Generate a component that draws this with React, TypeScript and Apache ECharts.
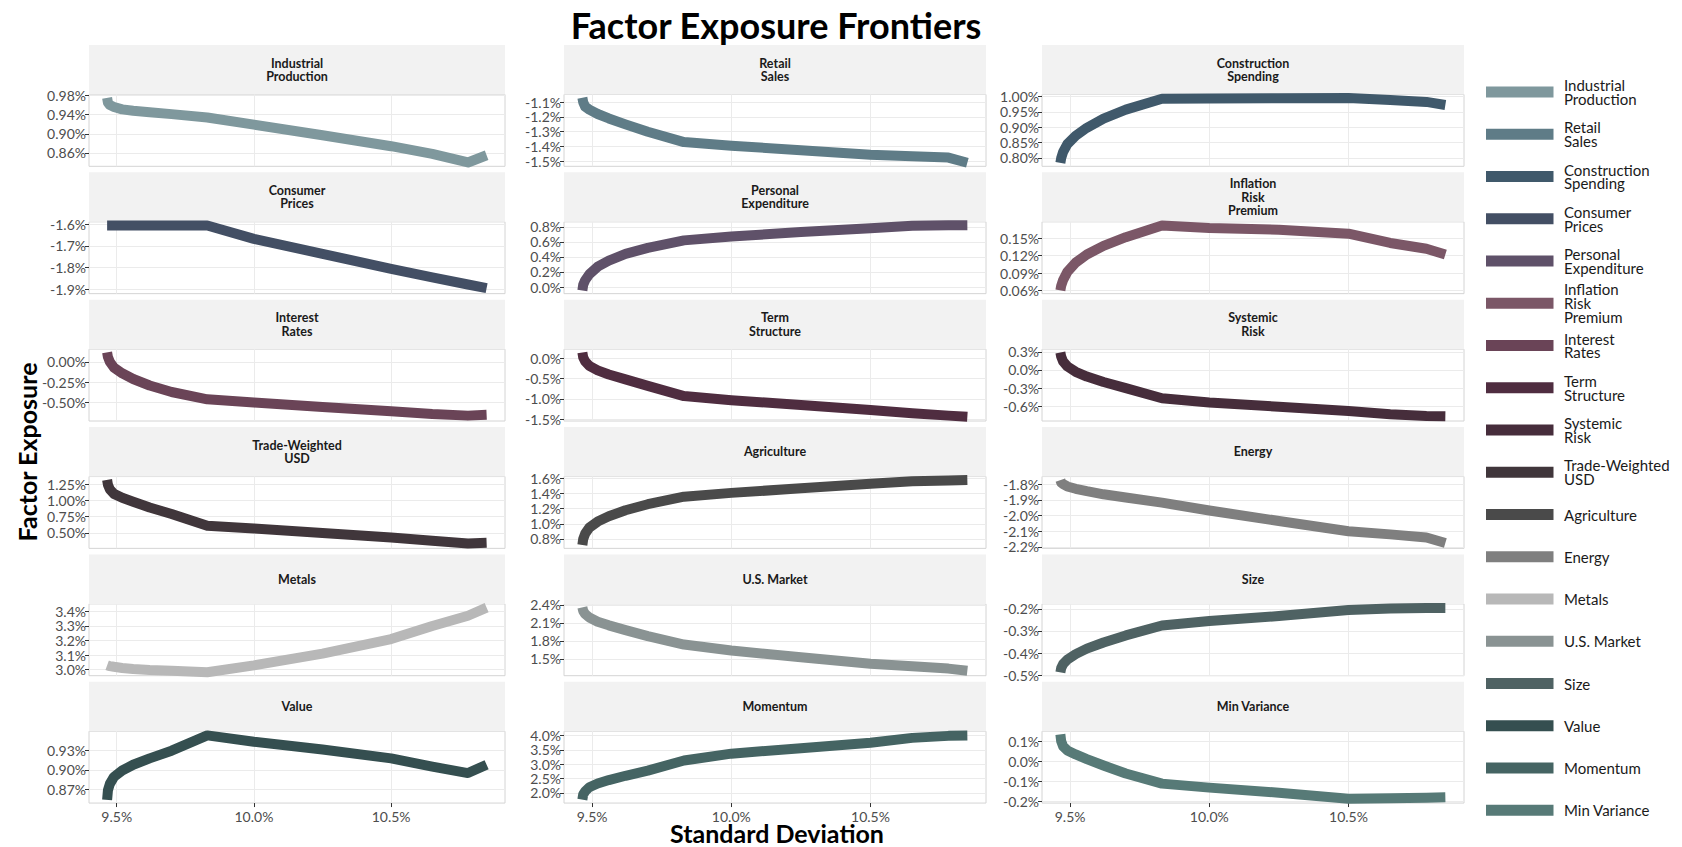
import React, { useEffect, useRef } from "react";
import * as echarts from "echarts";

// Standard deviation (x, in %)
const stdDev = [9.465, 9.468, 9.475, 9.49, 9.52, 9.56, 9.62, 9.7, 9.83, 10.0, 10.25, 10.5, 10.65, 10.78, 10.848];

// Factor exposures (in %), one per facet
const industrialProduction = [0.975, 0.965, 0.96, 0.956, 0.951, 0.948, 0.945, 0.941, 0.934, 0.919, 0.897, 0.874, 0.858, 0.84, 0.855];
const retailSales = [-1.07, -1.1, -1.13, -1.15, -1.18, -1.21, -1.25, -1.3, -1.37, -1.395, -1.425, -1.456, -1.466, -1.475, -1.51];
const constructionSpending = [0.784, 0.8, 0.82, 0.845, 0.872, 0.898, 0.928, 0.957, 0.992, 0.993, 0.994, 0.995, 0.988, 0.982, 0.972];
const consumerPrices = [-1.607, -1.607, -1.607, -1.607, -1.607, -1.607, -1.607, -1.607, -1.607, -1.668, -1.737, -1.806, -1.845, -1.878, -1.895];
const personalExpenditure = [-0.045, 0.03, 0.09, 0.17, 0.27, 0.35, 0.44, 0.52, 0.62, 0.67, 0.73, 0.78, 0.815, 0.82, 0.822];
const inflationRiskPremium = [0.06, 0.068, 0.078, 0.092, 0.108, 0.122, 0.137, 0.152, 0.172, 0.168, 0.165, 0.158, 0.142, 0.132, 0.122];
const interestRates = [0.116, 0.06, 0.0, -0.07, -0.14, -0.21, -0.29, -0.37, -0.46, -0.5, -0.555, -0.605, -0.64, -0.66, -0.65];
const termStructure = [0.14, 0.02, -0.08, -0.19, -0.3, -0.4, -0.52, -0.68, -0.93, -1.03, -1.15, -1.27, -1.35, -1.41, -1.44];
const systemicRisk = [0.29, 0.22, 0.14, 0.06, -0.03, -0.11, -0.2, -0.3, -0.47, -0.54, -0.61, -0.68, -0.735, -0.765, -0.77];
const tradeWeightedUSD = [1.316, 1.24, 1.17, 1.1, 1.04, 0.98, 0.89, 0.79, 0.61, 0.57, 0.5, 0.43, 0.38, 0.34, 0.35];
const agriculture = [0.72, 0.8, 0.87, 0.95, 1.03, 1.1, 1.18, 1.26, 1.36, 1.41, 1.47, 1.53, 1.565, 1.575, 1.58];
const energy = [-1.775, -1.79, -1.8, -1.815, -1.83, -1.845, -1.865, -1.885, -1.918, -1.968, -2.035, -2.1, -2.12, -2.14, -2.175];
const metals = [3.03, 3.028, 3.025, 3.02, 3.012, 3.005, 2.998, 2.993, 2.983, 3.03, 3.11, 3.21, 3.3, 3.37, 3.425];
const usMarket = [2.36, 2.3, 2.25, 2.19, 2.12, 2.06, 1.98, 1.88, 1.74, 1.64, 1.53, 1.42, 1.38, 1.34, 1.305];
const size = [-0.488, -0.468, -0.45, -0.43, -0.405, -0.38, -0.352, -0.32, -0.275, -0.255, -0.232, -0.205, -0.198, -0.196, -0.196];
const value = [0.853, 0.868, 0.878, 0.889, 0.899, 0.908, 0.918, 0.93, 0.954, 0.944, 0.932, 0.918, 0.905, 0.895, 0.908];
const momentum = [1.77, 1.95, 2.06, 2.2, 2.33, 2.45, 2.6, 2.78, 3.13, 3.37, 3.56, 3.75, 3.92, 3.99, 4.0];
const minVariance = [0.134, 0.1, 0.075, 0.055, 0.035, 0.012, -0.02, -0.06, -0.11, -0.13, -0.155, -0.185, -0.183, -0.18, -0.178];

const factorLabels = [
  "Industrial\nProduction", "Retail\nSales", "Construction\nSpending",
  "Consumer\nPrices", "Personal\nExpenditure", "Inflation\nRisk\nPremium",
  "Interest\nRates", "Term\nStructure", "Systemic\nRisk",
  "Trade-Weighted\nUSD", "Agriculture", "Energy",
  "Metals", "U.S. Market", "Size",
  "Value", "Momentum", "Min Variance",
];

const factorColors = [
  "#7f989d", "#5f7c87", "#40596b",
  "#434f64", "#5f5169", "#7b5767",
  "#6a4457", "#4f2d40", "#462d3b",
  "#40363b", "#4a4a4a", "#7f7f7f",
  "#b8b8b8", "#8a9393", "#4f6263",
  "#354f50", "#456463", "#577a77",
];

const seriesValues = [
  industrialProduction, retailSales, constructionSpending,
  consumerPrices, personalExpenditure, inflationRiskPremium,
  interestRates, termStructure, systemicRisk,
  tradeWeightedUSD, agriculture, energy,
  metals, usMarket, size,
  value, momentum, minVariance,
];

const yTicks = [
  [0.86, 0.9, 0.94, 0.98], [-1.5, -1.4, -1.3, -1.2, -1.1], [0.8, 0.85, 0.9, 0.95, 1.0],
  [-1.9, -1.8, -1.7, -1.6], [0, 0.2, 0.4, 0.6, 0.8], [0.06, 0.09, 0.12, 0.15],
  [-0.5, -0.25, 0], [-1.5, -1.0, -0.5, 0], [-0.6, -0.3, 0, 0.3],
  [0.5, 0.75, 1.0, 1.25], [0.8, 1.0, 1.2, 1.4, 1.6], [-2.2, -2.1, -2.0, -1.9, -1.8],
  [3.0, 3.1, 3.2, 3.3, 3.4], [1.5, 1.8, 2.1, 2.4], [-0.5, -0.4, -0.3, -0.2],
  [0.87, 0.9, 0.93], [2.0, 2.5, 3.0, 3.5, 4.0], [-0.2, -0.1, 0, 0.1],
];
const yDecimals = [2, 1, 2, 1, 1, 2, 2, 1, 1, 2, 1, 1, 1, 1, 1, 2, 1, 1];
const yMin = [0.832, -1.534, 0.773, -1.92, -0.088, 0.0543, -0.726, -1.542, -0.847, 0.264, 0.676, -2.209, 2.959, 1.222, -0.503, 0.848, 1.649, -0.2065];
const yMax = [0.982, -1.048, 1.006, -1.59, 0.866, 0.1785, 0.156, 0.221, 0.345, 1.366, 1.626, -1.752, 3.451, 2.417, -0.177, 0.9605, 4.151, 0.15];

const xTicks = [9.5, 10.0, 10.5];
const xMin = 9.399;
const xMax = 10.915;

const FONT = "Lato, 'Open Sans', 'DejaVu Sans', sans-serif";

export default function App() {
  const ref = useRef<HTMLDivElement>(null);
  useEffect(() => {
    if (!ref.current) return;
    const chart = echarts.init(ref.current, undefined, { renderer: "svg" });

    const colLeft = [89, 564, 1042];
    const colWidth = [416, 422, 422];
    const rowTop0 = 45;
    const rowStep = 127.35;
    const stripH = 49.5;
    const plotH = 71.8;
    const n = factorLabels.length;

    const grids: any[] = [];
    const xAxes: any[] = [];
    const yAxes: any[] = [];
    const series: any[] = [];
    const graphics: any[] = [];

    for (let i = 0; i < n; i++) {
      const r = Math.floor(i / 3);
      const c = i % 3;
      const stripTop = rowTop0 + r * rowStep;
      const bottomRow = r === 5;
      grids.push({
        left: colLeft[c],
        top: stripTop + stripH,
        width: colWidth[c],
        height: plotH,
        show: true,
        borderColor: "#d4d4d4",
        borderWidth: 1,
        backgroundColor: "#ffffff",
      });
      xAxes.push({
        type: "value",
        gridIndex: i,
        position: "bottom",
        min: xMin,
        max: xMax,
        axisLine: { show: false, onZero: false },
        axisTick: { show: bottomRow, length: 4, customValues: xTicks, lineStyle: { color: "#333333" } },
        axisLabel: {
          show: bottomRow,
          customValues: xTicks,
          formatter: (v: number) => v.toFixed(1) + "%",
          color: "#4d4d4d",
          fontSize: 14,
          lineHeight: 14,
          fontFamily: FONT,
          margin: 6,
        },
        splitLine: { show: true, lineStyle: { color: "#ebebeb", width: 1 } },
      });
      const dec = yDecimals[i];
      yAxes.push({
        type: "value",
        gridIndex: i,
        position: "left",
        min: yMin[i],
        max: yMax[i],
        axisLine: { show: false, onZero: false },
        axisTick: { show: true, length: 4, customValues: yTicks[i], lineStyle: { color: "#333333" } },
        axisLabel: {
          customValues: yTicks[i],
          formatter: (v: number) => v.toFixed(dec) + "%",
          color: "#4d4d4d",
          fontSize: 14,
          lineHeight: 14,
          fontFamily: FONT,
          margin: 3,
        },
        splitLine: { show: true, lineStyle: { color: "#ebebeb", width: 1 } },
      });
      series.push({
        type: "line",
        name: factorLabels[i],
        xAxisIndex: i,
        yAxisIndex: i,
        data: stdDev.map((x, j) => [x, seriesValues[i][j]]),
        showSymbol: false,
        symbol: "none",
        clip: true,
        silent: true,
        lineStyle: { color: factorColors[i], width: 10, cap: "butt", join: "round" },
      });
      // strip
      graphics.push({
        type: "rect",
        shape: { x: colLeft[c], y: stripTop, width: colWidth[c], height: stripH },
        style: { fill: "#f2f2f2" },
        silent: true,
        z: 1,
      });
      graphics.push({
        type: "text",
        x: colLeft[c] + colWidth[c] / 2,
        y: stripTop + stripH / 2,
        silent: true,
        z: 2,
        style: {
          text: factorLabels[i],
          align: "center",
          verticalAlign: "middle",
          fontFamily: FONT,
          fontWeight: "bold",
          fontSize: 12.5,
          lineHeight: 13.5,
          fill: "#1a1a1a",
        },
      });
      // legend
      const ky = 92 + i * 42.25;
      graphics.push({
        type: "rect",
        shape: { x: 1486, y: ky - 5.5, width: 67.5, height: 11 },
        style: { fill: factorColors[i] },
        silent: true,
      });
      graphics.push({
        type: "text",
        x: 1564,
        y: ky,
        silent: true,
        style: {
          text: factorLabels[i],
          align: "left",
          verticalAlign: "middle",
          fontFamily: FONT,
          fontSize: 15,
          lineHeight: 13.8,
          fill: "#1a1a1a",
        },
      });
    }

    graphics.push({
      type: "text",
      x: 776,
      y: 25,
      silent: true,
      z: 3,
      style: {
        text: "Factor Exposure Frontiers",
        align: "center",
        verticalAlign: "middle",
        fontFamily: FONT,
        fontWeight: "bold",
        fontSize: 36,
        fill: "#000000",
      },
    });
    graphics.push({
      type: "text",
      x: 777,
      y: 833,
      silent: true,
      style: {
        text: "Standard Deviation",
        align: "center",
        verticalAlign: "middle",
        fontFamily: FONT,
        fontWeight: "bold",
        fontSize: 25,
        lineHeight: 20,
        fill: "#000000",
      },
    });
    graphics.push({
      type: "text",
      x: 27,
      y: 452,
      rotation: Math.PI / 2,
      silent: true,
      style: {
        text: "Factor Exposure",
        align: "center",
        verticalAlign: "middle",
        fontFamily: FONT,
        fontWeight: "bold",
        fontSize: 25,
        fill: "#000000",
      },
    });

    chart.setOption({
      animation: false,
      backgroundColor: "#ffffff",
      grid: grids,
      xAxis: xAxes,
      yAxis: yAxes,
      series,
      graphic: { elements: graphics },
    });
    return () => chart.dispose();
  }, []);
  return (
    <div
      ref={ref}
      style={{ position: "fixed", left: 0, top: 0, width: 1682, height: 847 }}
    />
  );
}
